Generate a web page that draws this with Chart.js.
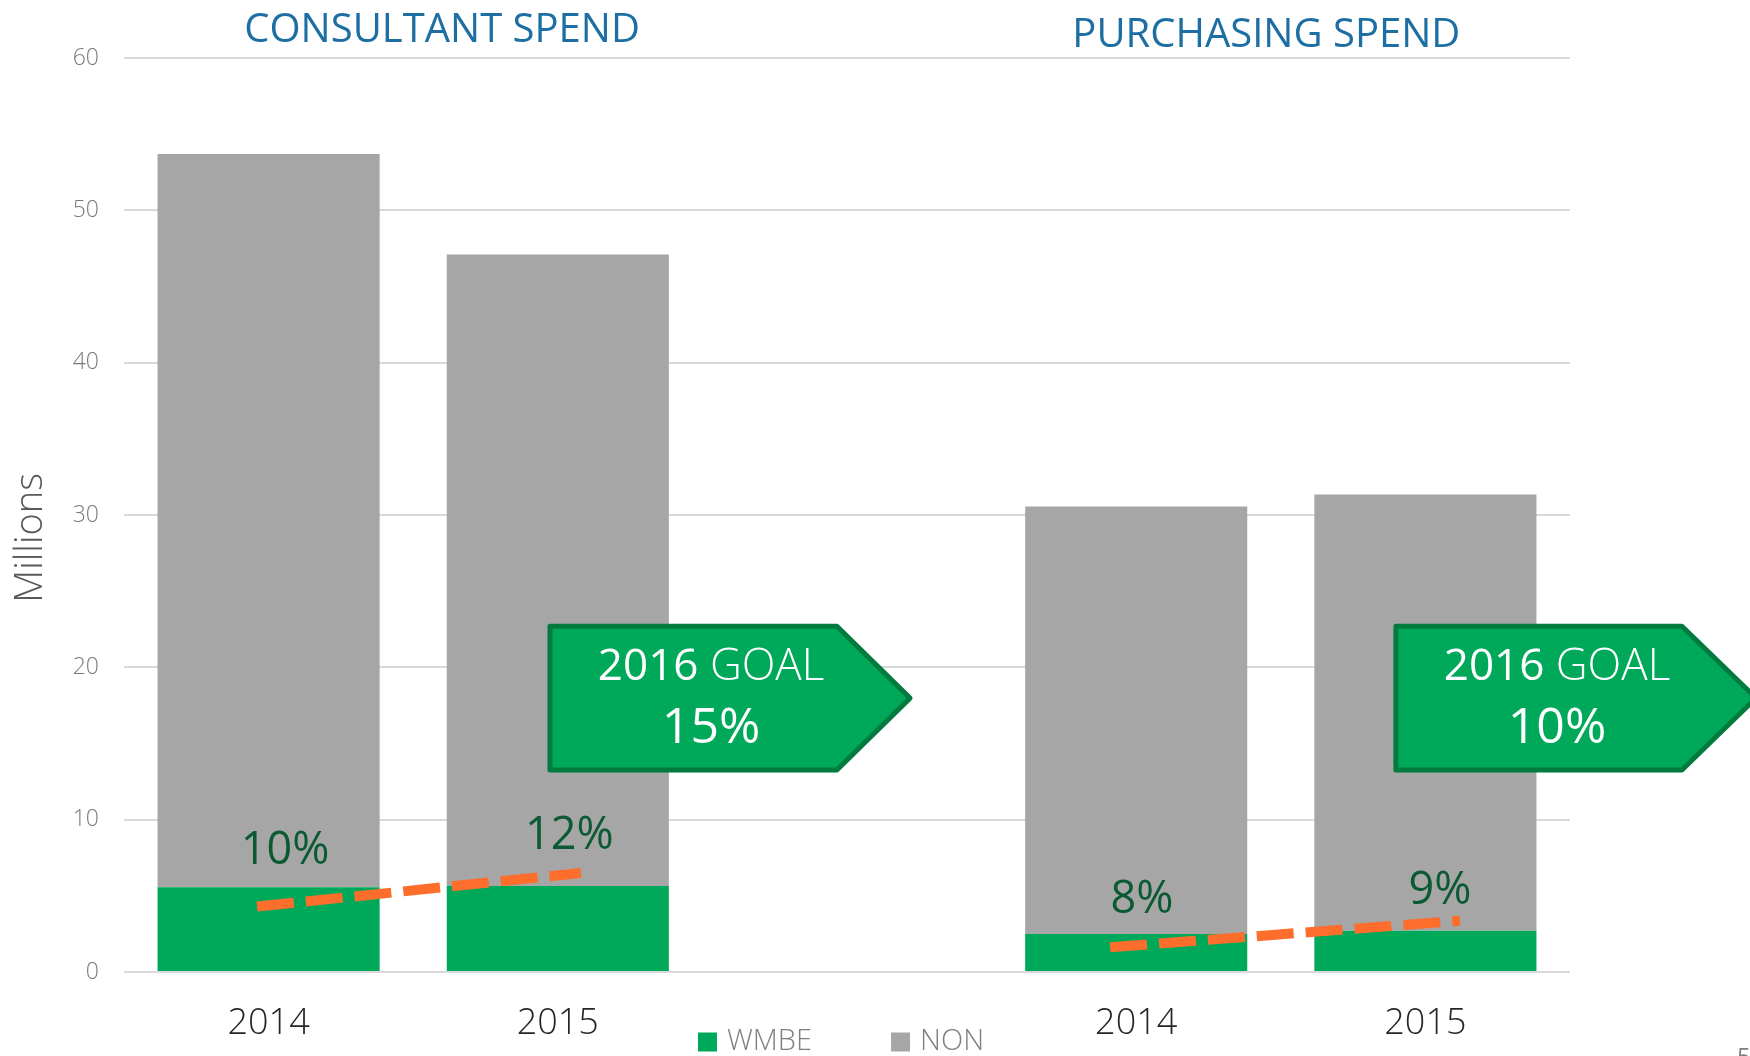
<!DOCTYPE html>
<html>
<head>
<meta charset="utf-8">
<script src="https://cdn.jsdelivr.net/npm/chart.js@4.4.1/dist/chart.umd.min.js"></script>
<style>
  html, body { margin: 0; padding: 0; background: #fff; }
  #wrap { width: 1750px; height: 1056px; position: relative; }
</style>
</head>
<body>
<div id="wrap"><canvas id="spendChart"></canvas></div>
<script>
// categories: consultant years, empty gap, purchasing years
const years = ["2014", "2015", "", "2014", "2015"];
// spend in millions
const wmbeSpend = [5.57, 5.64, null, 2.49, 2.71];
const nonSpend = [48.13, 41.46, null, 28.06, 28.64];
const yTicks = [0, 10, 20, 30, 40, 50, 60];

// WMBE share of each bar
const shareLabels = ["10%", "12%", "8%", "9%"];
// dashed trend lines (x in category units, y in millions)
const consultantTrend = [{ x: -0.04, y: 4.3 }, { x: 1.08, y: 6.5 }];
const purchasingTrend = [{ x: 2.91, y: 1.62 }, { x: 4.12, y: 3.37 }];

const sectionTitles = ["CONSULTANT SPEND", "PURCHASING SPEND"];
const goalLabels = ["15%", "10%"];

const GREEN = '#00a85a';
const GREY = '#a6a6a6';
const FONT = '"Open Sans", "Noto Sans", sans-serif';

// bars sit on a linear x axis so the trend lines can use fractional positions
const toPoints = values => values
  .map((v, i) => ({ x: i, y: v }))
  .filter(p => p.y !== null);
const labelPositions = years.map((y, i) => i).filter(i => years[i] !== "");

// draws titles, goal arrows and share labels on top of the bars
const overlayPlugin = {
  id: 'overlay',
  afterDatasetsDraw(chart, args, opts) {
    const ctx = chart.ctx;
    const px = v => chart.scales.x.getPixelForValue(v);
    const py = v => chart.scales.y.getPixelForValue(v);
    ctx.save();
    ctx.textAlign = 'center';
    ctx.textBaseline = 'middle';

    // y axis title
    ctx.save();
    ctx.translate(chart.chartArea.left - 93, py(28.5));
    ctx.rotate(-Math.PI / 2);
    ctx.fillStyle = '#595959';
    ctx.font = '300 38px ' + FONT;
    ctx.fillText('Millions', 0, 0);
    ctx.restore();

    // section titles
    ctx.fillStyle = '#1d6fa3';
    ctx.font = '40px ' + FONT;
    opts.titles.forEach((t, i) => ctx.fillText(sectionTitles[i], px(t.x), py(t.y)));

    // 2016 goal arrows
    opts.goals.forEach((g, i) => {
      const l = px(g.left), r = px(g.right), tip = px(g.tip);
      const top = py(g.top), bot = py(g.bottom), mid = (top + bot) / 2;
      ctx.beginPath();
      ctx.moveTo(l, top);
      ctx.lineTo(r, top);
      ctx.lineTo(tip, mid);
      ctx.lineTo(r, bot);
      ctx.lineTo(l, bot);
      ctx.closePath();
      ctx.fillStyle = GREEN;
      ctx.fill();
      ctx.lineWidth = 5;
      ctx.lineJoin = 'round';
      ctx.strokeStyle = '#007a3d';
      ctx.stroke();

      const cx = px(g.textX);
      ctx.fillStyle = '#ffffff';
      const f1 = '44px ' + FONT, f2 = '300 44px ' + FONT;
      ctx.font = f1;
      const w1 = ctx.measureText('2016 ').width;
      ctx.font = f2;
      const w2 = ctx.measureText('GOAL').width;
      const startX = cx - (w1 + w2) / 2;
      ctx.textAlign = 'left';
      ctx.font = f1;
      ctx.fillText('2016 ', startX, py(g.line1));
      ctx.font = f2;
      ctx.fillText('GOAL', startX + w1, py(g.line1));
      ctx.textAlign = 'center';
      ctx.font = '50px ' + FONT;
      ctx.fillText(goalLabels[i], cx, py(g.line2));
    });

    // WMBE share labels
    ctx.fillStyle = '#0b5a33';
    ctx.font = '45px ' + FONT;
    opts.shares.forEach((s, i) => ctx.fillText(shareLabels[i], px(s.x), py(s.y)));
    ctx.restore();
  },
  afterDraw(chart) {
    // legend for the two bar series
    const ctx = chart.ctx;
    const area = chart.chartArea;
    const items = chart.data.datasets.filter(d => d.type !== 'line');
    ctx.save();
    ctx.font = '300 29px ' + FONT;
    ctx.textBaseline = 'middle';
    const box = 19, gap = 10, spacing = 79;
    const widths = items.map(d => box + gap + ctx.measureText(d.label).width);
    const total = widths.reduce((a, b) => a + b, 0) + spacing * (items.length - 1);
    let x = (area.left + area.right) / 2 - 6 - total / 2;
    const y = 1042;
    items.forEach((d, i) => {
      ctx.fillStyle = d.backgroundColor;
      ctx.fillRect(x, y - box / 2, box, box);
      ctx.fillStyle = '#7f7f7f';
      ctx.fillText(d.label, x + box + gap, y);
      x += widths[i] + spacing;
    });
    // page number in the corner
    ctx.fillStyle = '#7f7f7f';
    ctx.font = '24px ' + FONT;
    ctx.textBaseline = 'top';
    ctx.fillText('5', 1737, 1046);
    ctx.restore();
  }
};

const ctx = document.getElementById('spendChart').getContext('2d');
new Chart(ctx, {
  type: 'bar',
  data: {
    datasets: [
      {
        label: 'WMBE',
        data: toPoints(wmbeSpend),
        backgroundColor: GREEN,
        stack: 'spend',
        grouped: false,
        categoryPercentage: 1,
        barPercentage: 0.768
      },
      {
        label: 'NON',
        data: toPoints(nonSpend),
        backgroundColor: GREY,
        stack: 'spend',
        grouped: false,
        categoryPercentage: 1,
        barPercentage: 0.768
      },
      {
        type: 'line',
        label: 'consultant trend',
        data: consultantTrend,
        stack: 'trend1',
        order: -1,
        borderColor: '#fd6e2c',
        borderWidth: 10,
        borderDash: [37, 12],
        borderCapStyle: 'butt',
        pointRadius: 0,
        fill: false
      },
      {
        type: 'line',
        label: 'purchasing trend',
        data: purchasingTrend,
        stack: 'trend2',
        order: -1,
        borderColor: '#fd6e2c',
        borderWidth: 10,
        borderDash: [37, 12],
        borderCapStyle: 'butt',
        pointRadius: 0,
        fill: false
      }
    ]
  },
  options: {
    responsive: true,
    maintainAspectRatio: false,
    animation: false,
    layout: { padding: { top: 58, right: 180, bottom: 6, left: 6 } },
    plugins: {
      legend: { display: false },
      tooltip: { enabled: false },
      overlay: {
        titles: [{ x: 0.6, y: 61.8 }, { x: 3.45, y: 61.5 }],
        goals: [
          { left: 0.973, right: 1.965, tip: 2.218, top: 22.7, bottom: 13.26, textX: 1.53, line1: 19.96, line2: 15.96 },
          { left: 3.898, right: 4.887, tip: 5.143, top: 22.7, bottom: 13.26, textX: 4.455, line1: 19.96, line2: 15.96 }
        ],
        shares: [{ x: 0.057, y: 7.9 }, { x: 1.04, y: 8.9 }, { x: 3.02, y: 4.7 }, { x: 4.05, y: 5.3 }]
      }
    },
    scales: {
      x: {
        type: 'linear',
        stacked: true,
        min: -0.5,
        max: 4.5,
        bounds: 'data',
        offset: false,
        afterBuildTicks: scale => { scale.ticks = labelPositions.map(v => ({ value: v })); },
        afterFit: scale => { scale.height = 78; },
        grid: { display: false, drawTicks: false },
        border: { display: false },
        ticks: {
          color: '#262626',
          font: { family: FONT, size: 36, weight: '300' },
          padding: 30,
          maxRotation: 0,
          autoSkip: false,
          callback: value => years[value]
        }
      },
      y: {
        stacked: true,
        min: 0,
        max: 60,
        afterBuildTicks: scale => { scale.ticks = yTicks.map(v => ({ value: v })); },
        afterFit: scale => { scale.width = 118; },
        grid: { color: '#d9d9d9', lineWidth: 2, drawTicks: false },
        border: { display: false },
        ticks: {
          color: '#7a7a7a',
          font: { family: FONT, size: 23, weight: '300' },
          padding: 25
        }
      }
    }
  },
  plugins: [overlayPlugin]
});
</script>
</body>
</html>
